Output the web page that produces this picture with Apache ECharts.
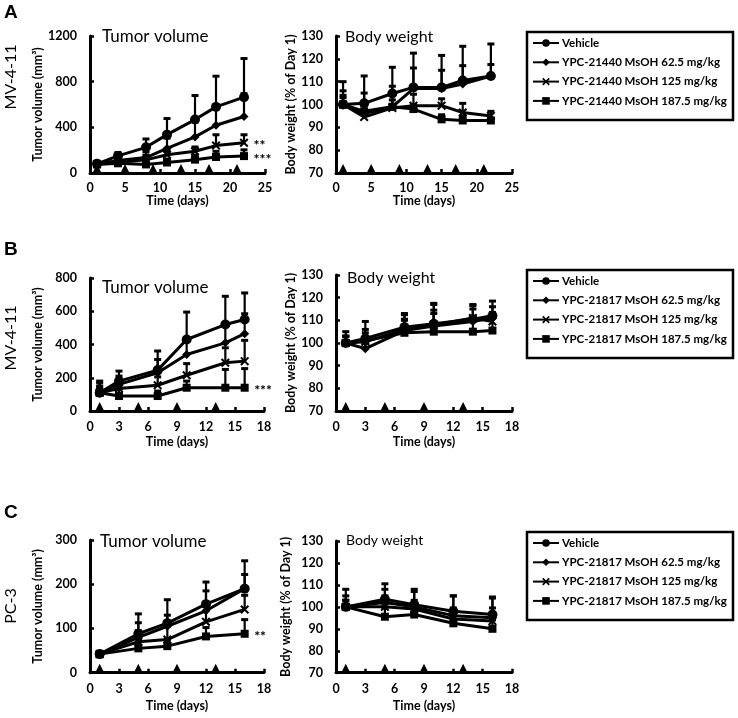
<!DOCTYPE html>
<html><head><meta charset="utf-8">
<script src="https://cdn.jsdelivr.net/npm/echarts@6/dist/echarts.min.js"></script>
<style>html,body{margin:0;padding:0;background:#fff}#c{width:738px;height:718px}</style>
</head><body><div id="c"></div>
<script>
// ---------- DATA ----------
const FONT = 'Lato, "Open Sans", sans-serif';
const namesA = ['Vehicle','YPC-21440 MsOH 62.5 mg/kg','YPC-21440 MsOH 125 mg/kg','YPC-21440 MsOH 187.5 mg/kg'];
const namesBC = ['Vehicle','YPC-21817 MsOH 62.5 mg/kg','YPC-21817 MsOH 125 mg/kg','YPC-21817 MsOH 187.5 mg/kg'];

// Panel A (MV-4-11, YPC-21440)
const daysA = [1,4,8,11,15,18,22];
const doseDaysA = [1,5,9,13,17,21];
const tvA_veh = [80,150,225,336,468,579,664];
const tvA_veh_sd = [12,30,73,141,211,269,339];
const tvA_62 = [78,110,135,215,316,418,495];
const tvA_62_sd = [10,25,50,90,130,160,200];
const tvA_125 = [78,95,115,160,190,240,265];
const tvA_125_sd = [10,20,40,35,38,95,70];
const tvA_187 = [75,85,75,92,117,140,148];
const tvA_187_sd = [10,25,20,30,40,50,55];
const bwA_veh = [100,100.5,104.8,107.5,107.5,110.5,112.5];
const bwA_veh_sd = [10,12,11.5,15,14,15,14];
const bwA_62 = [100,96,99,107,107,109,112.5];
const bwA_62_sd = [6,9,9,9,8,8,5];
const bwA_125 = [100,94.5,98.5,99.5,99.5,96.5,95];
const bwA_125_sd = [4,5,6,5,3,4,2];
const bwA_187 = [100,97,99,98,93.5,93,93];
const bwA_187_sd = [3,4,3,2,2,2,1];

// Panel B (MV-4-11, YPC-21817)
const daysB = [1,3,7,10,14,16];
const doseDaysB = [1,5,9,13];
const tvB_veh = [110,180,246,430,520,550];
const tvB_veh_sd = [60,60,115,165,170,160];
const tvB_62 = [110,160,230,340,410,465];
const tvB_62_sd = [40,50,80,100,120,120];
const tvB_125 = [110,135,155,215,290,300];
const tvB_125_sd = [30,40,50,70,90,125];
const tvB_187 = [110,90,90,140,140,140];
const tvB_187_sd = [70,45,30,40,110,115];
const bwB_veh = [100,102,107,108.5,110.5,112];
const bwB_veh_sd = [5,7.5,6,9,6.5,6.5];
const bwB_62 = [100,97.5,105.5,107.5,109.5,111];
const bwB_62_sd = [3,5,5,7,7,5];
const bwB_125 = [100,100.5,106,108,111,109.5];
const bwB_125_sd = [3,4,4,5,4,4];
const bwB_187 = [100,101,104.5,105,105,105.5];
const bwB_187_sd = [3,5,8,12,6,7];

// Panel C (PC-3, YPC-21817)
const daysC = [1,5,8,12,16];
const doseDaysC = [1,5,9,13];
const tvC_veh = [42,88,112,155,190];
const tvC_veh_sd = [5,45,53,50,63];
const tvC_62 = [42,80,105,140,190];
const tvC_62_sd = [4,33,25,45,32];
const tvC_125 = [42,70,75,115,143];
const tvC_125_sd = [4,25,30,35,32];
const tvC_187 = [42,55,60,82,88];
const tvC_187_sd = [4,15,15,20,32];
const bwC_veh = [100,103.5,101,98,96.5];
const bwC_veh_sd = [8,7,7,7,8];
const bwC_62 = [100,102,100,96,95];
const bwC_62_sd = [5,6,7,9,9];
const bwC_125 = [100,100,99,94.5,93.5];
const bwC_125_sd = [3,5,4,5,6];
const bwC_187 = [100,95.5,96.5,92.5,90];
const bwC_187_sd = [3,4,4,4,4];

// significance marks
const sigA = ['**','***'];
const sigB = ['***'];
const sigC = ['**'];

// ---------- CHART ----------
const X_SYM = 'path://M0,1.6L1.6,0L5,3.4L8.4,0L10,1.6L6.6,5L10,8.4L8.4,10L5,6.6L1.6,10L0,8.4L3.4,5Z';
const SYMS = ['circle','diamond',X_SYM,'rect'];
const SIZES = [10,9,9,8];

function errRender(params, api){
  const x = api.value(0), y = api.value(1), sd = api.value(2);
  const p0 = api.coord([x,y]), p1 = api.coord([x,y+sd]);
  return {type:'group', children:[
    {type:'line', shape:{x1:p0[0],y1:p0[1],x2:p1[0],y2:p1[1]}, style:{stroke:'#000',lineWidth:2.2}},
    {type:'line', shape:{x1:p1[0]-3.5,y1:p1[1],x2:p1[0]+3.5,y2:p1[1]}, style:{stroke:'#000',lineWidth:3}}
  ]};
}

const series = [];
function panel(g, days, names, means, sds, doseDays, base, sig){
  means.forEach((m,k)=>{
    series.push({type:'custom', name:'err'+g+'_'+k, xAxisIndex:g, yAxisIndex:g, silent:true, clip:false, z:2,
      encode:{x:0,y:1}, data: days.map((d,i)=>[d, m[i], sds[k][i]]), renderItem: errRender});
  });
  means.forEach((m,k)=>{
    series.push({type:'line', name:names[k], xAxisIndex:g, yAxisIndex:g, z:3,
      data: days.map((d,i)=>[d, m[i]]), symbol:SYMS[k], symbolSize:SIZES[k], showSymbol:true,
      lineStyle:{color:'#000',width:3}, itemStyle:{color:'#000', opacity:1}});
  });
  series.push({type:'scatter', name:'dose'+g, xAxisIndex:g, yAxisIndex:g, clip:false, z:6, silent:true,
    data: doseDays.map(d=>[d, base]), symbol:'triangle', symbolSize:[10,10], symbolOffset:[0,-4],
    itemStyle:{color:'#000', opacity:1}});
  if (sig){
    series.push({type:'scatter', name:'sig'+g, xAxisIndex:g, yAxisIndex:g, clip:false, z:5, silent:true,
      symbol:'circle', symbolSize:1, itemStyle:{color:'rgba(0,0,0,0)'},
      data: sig.map(s=>({value:[days[days.length-1], means[s.k][days.length-1]], label:{formatter:s.t}})),
      label:{show:true, position:'right', distance:9, color:'#000', opacity:1, fontSize:14, fontWeight:'bold', fontFamily:FONT, offset:[0,3]}});
  }
}

panel(0, daysA, namesA, [tvA_veh,tvA_62,tvA_125,tvA_187], [tvA_veh_sd,tvA_62_sd,tvA_125_sd,tvA_187_sd], doseDaysA, 0,
  [{k:2,t:sigA[0]},{k:3,t:sigA[1]}]);
panel(1, daysA, namesA, [bwA_veh,bwA_62,bwA_125,bwA_187], [bwA_veh_sd,bwA_62_sd,bwA_125_sd,bwA_187_sd], doseDaysA, 70, null);
panel(2, daysB, namesBC, [tvB_veh,tvB_62,tvB_125,tvB_187], [tvB_veh_sd,tvB_62_sd,tvB_125_sd,tvB_187_sd], doseDaysB, 0,
  [{k:3,t:sigB[0]}]);
panel(3, daysB, namesBC, [bwB_veh,bwB_62,bwB_125,bwB_187], [bwB_veh_sd,bwB_62_sd,bwB_125_sd,bwB_187_sd], doseDaysB, 70, null);
panel(4, daysC, namesBC, [tvC_veh,tvC_62,tvC_125,tvC_187], [tvC_veh_sd,tvC_62_sd,tvC_125_sd,tvC_187_sd], doseDaysC, 0,
  [{k:3,t:sigC[0]}]);
panel(5, daysC, namesBC, [bwC_veh,bwC_62,bwC_125,bwC_187], [bwC_veh_sd,bwC_62_sd,bwC_125_sd,bwC_187_sd], doseDaysC, 70, null);

const axisLine = {lineStyle:{color:'#000', width:3}};
const axisTick = {inside:true, length:4, lineStyle:{color:'#000', width:2.5}};
const lbl = (m)=>({color:'#000', fontSize:12.5, fontWeight:'bold', fontFamily:FONT, margin:m, formatter:(v)=>String(v)});
const nameStyle = {color:'#000', fontSize:12.5, fontWeight:'bold', fontFamily:FONT};

function xAx(g, max, interval, gap, lm){
  return {type:'value', gridIndex:g, min:0, max:max, interval:interval, name:'Time (days)', nameLocation:'middle',
    nameGap:gap, nameTextStyle:nameStyle, axisLine, axisTick, axisLabel:lbl(lm), splitLine:{show:false}};
}
function yAx(g, min, max, interval, name, gap){
  return {type:'value', gridIndex:g, min, max, interval, name, nameLocation:'middle', nameGap:gap,
    nameTextStyle:nameStyle, axisLine, axisTick, axisLabel:lbl(13), splitLine:{show:false}};
}

const TV = 'Tumor volume (mm\u00B3)';
const BW = 'Body weight (% of Day 1)';

function legendDef(names, top){
  return {orient:'vertical', left:532, top:top, padding:0, itemGap:7.3, itemWidth:26, itemHeight:9.5,
    textStyle:{color:'#000', fontSize:11.5, fontWeight:'bold', fontFamily:FONT, padding:[0,0,0,-2]},
    data:names, selectedMode:false};
}

function txt(x,y,t,size,weight,rot,family){
  return {type:'text', x, y, rotation:rot||0, style:{text:t, fontSize:size, fontWeight:weight||'normal',
    fontFamily:family||FONT, fill:'#000', textAlign:rot?'center':'left', textVerticalAlign:'middle'}};
}

const option = {
  animation:false,
  backgroundColor:'#fff',
  grid:[
    {left:90, top:36, width:175, height:137},
    {left:336, top:36, width:176, height:137},
    {left:90, top:278, width:174, height:133},
    {left:336, top:275, width:176, height:136},
    {left:90, top:540, width:174, height:132.7},
    {left:336, top:541, width:176, height:131.7}
  ],
  xAxis:[
    xAx(0,25,5,21,8), xAx(1,25,5,21,8),
    xAx(2,18,3,24,9), xAx(3,18,3,24,9),
    xAx(4,18,3,27,10), xAx(5,18,3,27,10)
  ],
  yAxis:[
    yAx(0,0,1200,400,TV,46), yAx(1,70,130,10,BW,38),
    yAx(2,0,800,200,TV,46), yAx(3,70,130,10,BW,38),
    yAx(4,0,300,100,TV,46), yAx(5,70,130,10,BW,44)
  ],
  legend:[legendDef(namesA,37), legendDef(namesBC,275), legendDef(namesBC,537)],
  graphic:[
    {type:'rect', shape:{x:527,y:32,width:206,height:88}, style:{fill:'none', stroke:'#000', lineWidth:2.5}},
    {type:'rect', shape:{x:527,y:270,width:206,height:88}, style:{fill:'none', stroke:'#000', lineWidth:2.5}},
    {type:'rect', shape:{x:527,y:532,width:206,height:88}, style:{fill:'none', stroke:'#000', lineWidth:2.5}},
    txt(4,13,'A',19,'bold',0,'Liberation Sans'),
    txt(4,250,'B',19,'bold',0,'Liberation Sans'),
    txt(4,513,'C',19,'bold',0,'Liberation Sans'),
    txt(11,77,'MV-4-11',16,'normal',Math.PI/2),
    txt(11,338,'MV-4-11',16,'normal',Math.PI/2),
    txt(11,606,'PC-3',16,'normal',Math.PI/2),
    txt(102,37,'Tumor volume',17),
    txt(345,37,'Body weight',16),
    txt(102,288,'Tumor volume',17),
    txt(347,278,'Body weight',16),
    txt(100,542,'Tumor volume',17),
    txt(346,540,'Body weight',14)
  ],
  series
};
const chart = echarts.init(document.getElementById('c'), null, {renderer:'canvas'});
chart.setOption(option);
</script></body></html>
